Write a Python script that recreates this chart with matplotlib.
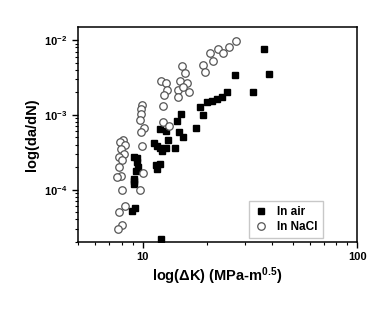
import matplotlib
matplotlib.use("Agg")
import matplotlib.pyplot as plt
from matplotlib.ticker import LogLocator, NullFormatter, FixedLocator

plt.rcParams['font.family'] = ['Liberation Sans', 'DejaVu Sans']
plt.rcParams['mathtext.fontset'] = 'custom'
plt.rcParams['mathtext.rm'] = 'Liberation Sans:bold'
plt.rcParams['mathtext.bf'] = 'Liberation Sans:bold'
plt.rcParams['mathtext.default'] = 'bf'

air_dk = [36.7, 26.9, 38.7, 32.7, 24.8, 23.5, 22.3, 21.1, 20.0, 18.5, 19.2, 15.1, 14.4,
          17.8, 12.1, 12.8, 14.8, 15.4, 13.1, 11.3, 11.7, 12.1, 12.9, 14.1, 12.3, 9.1,
          9.45, 9.45, 9.55, 11.5, 12.1, 11.7, 9.1, 9.3, 9.1, 9.1, 9.2, 8.96, 12.2]
air_dadn = [7.53e-3, 3.37e-3, 3.55e-3, 2.02e-3, 2.02e-3, 1.73e-3, 1.64e-3, 1.55e-3,
            1.48e-3, 1.29e-3, 1.0e-3, 1.03e-3, 8.4e-4, 6.6e-4, 6.5e-4, 6.15e-4, 5.86e-4,
            5.1e-4, 4.6e-4, 4.17e-4, 3.87e-4, 3.6e-4, 3.64e-4, 3.57e-4, 3.32e-4, 2.75e-4,
            2.62e-4, 2.32e-4, 1.99e-4, 2.13e-4, 2.2e-4, 1.88e-4, 1.41e-4, 1.79e-4, 1.31e-4,
            1.19e-4, 5.77e-5, 5.19e-5, 2.21e-5]

nacl_dk = [27.3, 25.2, 22.4, 23.7, 20.6, 21.3, 19.2, 19.6, 15.2, 15.85, 14.9, 16.1, 12.2,
           12.8, 13.0, 12.6, 14.6, 15.5, 16.4, 14.6, 9.97, 9.8, 9.86, 9.7, 12.5, 12.5,
           13.3, 10.1, 9.8, 9.9, 8.13, 7.84, 8.27, 7.9, 8.19, 7.76, 8.05, 7.76, 10.0, 7.9,
           7.63, 8.05, 9.7, 8.27, 7.76, 7.98, 7.68]
nacl_dadn = [9.64e-3, 8.1e-3, 7.5e-3, 6.8e-3, 6.8e-3, 5.26e-3, 4.6e-3, 3.74e-3, 4.5e-3,
             3.63e-3, 2.82e-3, 2.65e-3, 2.82e-3, 2.69e-3, 2.17e-3, 1.82e-3, 2.12e-3,
             2.36e-3, 2.02e-3, 1.73e-3, 1.36e-3, 1.2e-3, 1.03e-3, 8.65e-4, 1.31e-3, 8.1e-4,
             7.2e-4, 6.6e-4, 5.86e-4, 3.87e-4, 4.6e-4, 4.38e-4, 3.96e-4, 3.5e-4, 3.0e-4,
             2.71e-4, 2.51e-4, 1.99e-4, 1.66e-4, 1.53e-4, 1.49e-4, 9.9e-5, 9.9e-5, 6.07e-5,
             5.04e-5, 3.34e-5, 2.95e-5]

fig = plt.figure(figsize=(3.92, 3.13), dpi=100)
ax = fig.add_axes([0.199, 0.227, 0.712, 0.687])
ax.set_xscale('log')
ax.set_yscale('log')
ax.plot(air_dk, air_dadn, 's', color='black', markersize=5.0, linestyle='none', label='In air')
ax.plot(nacl_dk, nacl_dadn, 'o', markerfacecolor='white', markeredgecolor='#555555',
        markeredgewidth=0.9, markersize=5.4, linestyle='none', label='In NaCl')
ax.set_xlim(5, 100)
ax.set_ylim(2e-5, 1.5e-2)

ax.xaxis.set_major_locator(FixedLocator([10, 100]))
ax.set_xticklabels(['10', '100'])
ax.xaxis.set_minor_locator(LogLocator(base=10, subs=range(2, 10)))
ax.xaxis.set_minor_formatter(NullFormatter())
ax.yaxis.set_major_locator(FixedLocator([1e-4, 1e-3, 1e-2]))
ax.set_yticklabels([r'$\mathbf{10^{-4}}$', r'$\mathbf{10^{-3}}$', r'$\mathbf{10^{-2}}$'])
ax.yaxis.set_minor_locator(LogLocator(base=10, subs=range(2, 10)))
ax.yaxis.set_minor_formatter(NullFormatter())

ax.tick_params(which='major', direction='out', length=4, width=1, labelsize=8)
ax.tick_params(which='minor', direction='out', length=2, width=0.8)
for lab in ax.get_xticklabels() + ax.get_yticklabels():
    lab.set_fontweight('bold')
for s in ax.spines.values():
    s.set_linewidth(1.1)

ax.set_xlabel(r'log($\Delta$K) (MPa-m$^{0.5}$)', fontsize=10.5, fontweight='bold', labelpad=2)
ax.set_ylabel('log(da/dN)', fontsize=10.5, fontweight='bold', labelpad=4)

leg = ax.legend(loc='lower right', bbox_to_anchor=(0.9, -0.01), fontsize=8.5,
                frameon=True, fancybox=False, edgecolor='#bbbbbb', handletextpad=0.8,
                borderpad=0.45, labelspacing=0.25, handlelength=1.2)
for t in leg.get_texts():
    t.set_fontweight('bold')

fig.savefig('out.png', dpi=100)
